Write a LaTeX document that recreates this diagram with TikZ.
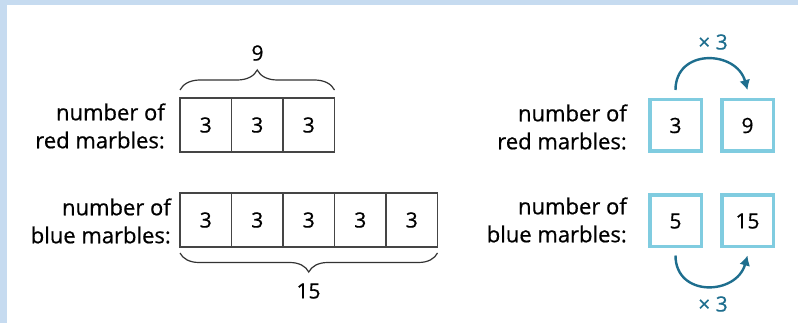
\documentclass[tikz,border=0pt]{standalone}
\usepackage{fontspec}
\setmainfont{Open Sans}[FakeBold=0.6]
\usetikzlibrary{decorations.pathreplacing,arrows.meta}
\definecolor{bandblue}{HTML}{C6DBF0}
\definecolor{cyanbox}{HTML}{80CCE0}
\definecolor{arrowteal}{HTML}{1E6E8E}
\definecolor{cellgray}{HTML}{454545}
\begin{document}
\begin{tikzpicture}[x=1pt,y=-1pt,
  cell/.style={draw=cellgray, line width=1.2pt, minimum width=51.5pt, minimum height=54pt, inner sep=0pt, outer sep=0pt, font=\fontsize{21}{25}\selectfont},
  lbl/.style={align=right, anchor=east, font=\fontsize{22}{28}\selectfont, inner sep=0pt, text=black},
  sq/.style={draw=cyanbox, line width=3.5pt, minimum size=51.5pt, inner sep=0pt, font=\fontsize{21}{25}\selectfont},
  arr/.style={draw=arrowteal, line width=2.4pt, -{Latex[length=10pt,width=11pt]}},
  brc/.style={decorate, decoration={brace, amplitude=20pt}, line width=1.2pt, draw=black!80},
  num/.style={font=\fontsize{21}{25}\selectfont, inner sep=0pt},
  tnum/.style={font=\fontsize{21}{25}\selectfont, inner sep=0pt, text=arrowteal}]
\useasboundingbox (0,0) rectangle (798,323);
\fill[white] (0,0) rectangle (798,323);
\fill[bandblue] (0,0) rectangle (798,5);
\fill[bandblue] (0,0) rectangle (7,323);
% left tape diagrams
\node[lbl] (lr) at (165,126) {number of\\red marbles:};
\node[lbl] (lb) at (171,221) {number of\\blue marbles:};
\foreach \i in {1,2,3} \node[cell] (r\i) at ({180+51.5*(\i-0.5)},125) {3};
\foreach \i in {1,2,3,4,5} \node[cell] (b\i) at ({180+51.5*(\i-0.5)},220) {3};
\draw[brc] ([yshift=8pt]r1.north west) -- ([yshift=8pt]r3.north east);
\node[num] (n9) at (257.5,53) {9};
\draw[brc, decoration={amplitude=19pt}] ([yshift=-6pt]b5.south east) -- ([yshift=-6pt]b1.south west);
\node[num] (n15) at (308.5,291) {15};
% right double number boxes
\node[lbl] (rr) at (627,127) {number of\\red marbles:};
\node[lbl] (rb) at (627,220) {number of\\blue marbles:};
\node[sq] (s3) at (675.5,125.5) {3};
\node[sq] (s9) at (747.5,125.5) {9};
\node[sq] (s5) at (675.5,221) {5};
\node[sq] (s15) at (747.5,221) {15};
\draw[arr] ([yshift=8pt]s3.north) .. controls ([yshift=50pt]s3.north) and ([xshift=-11pt,yshift=48pt]s9.north) .. ([yshift=8pt]s9.north);
\draw[arr] ([yshift=-7pt]s5.south) .. controls ([yshift=-49pt]s5.south) and ([xshift=-11pt,yshift=-47pt]s15.south) .. ([yshift=-7pt]s15.south);
\node[tnum] (t1) at (713,42) {× 3};
\node[tnum] (t2) at (713,304) {× 3};
\end{tikzpicture}
\end{document}
